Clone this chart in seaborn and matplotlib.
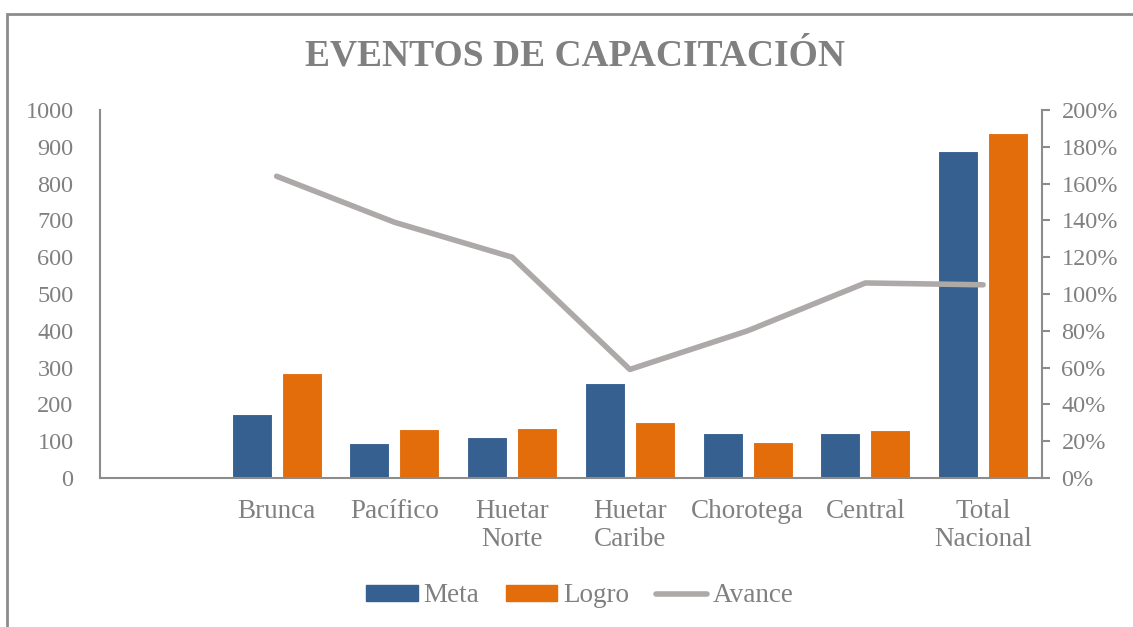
import matplotlib
matplotlib.use("Agg")
import matplotlib.pyplot as plt
import matplotlib.patches as mpatches
from matplotlib.lines import Line2D
from matplotlib.ticker import FuncFormatter
import pandas as pd
import seaborn as sns

# data
regions = ["Brunca", "Pacífico", "Huetar Norte", "Huetar Caribe", "Chorotega", "Central", "Total Nacional"]
tick_labels = ["", "Brunca", "Pacífico", "Huetar\nNorte", "Huetar\nCaribe", "Chorotega", "Central", "Total\nNacional"]
meta = [174, 95, 112, 257, 123, 123, 888]
logro = [286, 132, 135, 151, 98, 130, 937]
avance = [1.64, 1.39, 1.20, 0.59, 0.80, 1.06, 1.05]

C_META = "#36608F"
C_LOGRO = "#E36C0B"
C_AVANCE = "#ADA9A8"
C_TEXT = "#808080"
C_AXIS = "#8C8C8C"

sns.set_theme(style="white")
plt.rcParams["font.family"] = ["Liberation Serif", "DejaVu Serif"]

order = [""] + regions
df = pd.DataFrame({
    "region": regions * 2,
    "valor": meta + logro,
    "serie": ["Meta"] * len(regions) + ["Logro"] * len(regions),
})

fig = plt.figure(figsize=(11.33, 6.27), dpi=100)
ax = fig.add_axes([100 / 1133, 149 / 627, 942 / 1133, 368 / 627])

sns.barplot(data=df, x="region", y="valor", hue="serie", order=order,
            hue_order=["Meta", "Logro"], palette=[C_META, C_LOGRO], saturation=1,
            width=0.85, gap=0.2, edgecolor="white", linewidth=0.8,
            legend=False, ax=ax)

ax.set_ylim(0, 1000)
ax.set_yticks(range(0, 1001, 100))
ax.set_xlim(-0.5, len(order) - 0.5)
ax.set_xticks(range(len(order)))
ax.set_xticklabels(tick_labels, linespacing=1.15)
ax.set_xlabel("")
ax.set_ylabel("")
ax.tick_params(axis="both", colors=C_TEXT, length=0)
ax.tick_params(axis="y", labelsize=17.5, pad=19)
ax.tick_params(axis="x", labelsize=19.5, pad=15)
for s in ["top", "right"]:
    ax.spines[s].set_visible(False)
ax.spines["left"].set_color(C_AXIS)
ax.spines["bottom"].set_color(C_AXIS)
ax.spines["left"].set_linewidth(1.5)
ax.spines["bottom"].set_linewidth(1.5)

ax2 = ax.twinx()
line_df = pd.DataFrame({"pos": [order.index(r) for r in regions], "avance": avance})
sns.lineplot(data=line_df, x="pos", y="avance", color=C_AVANCE, linewidth=4,
             solid_capstyle="round", ax=ax2)
ax2.set_ylim(0, 2)
ax2.set_yticks([i / 10 for i in range(0, 21, 2)])
ax2.yaxis.set_major_formatter(FuncFormatter(lambda v, p: f"{v * 100:.0f}%"))
ax2.set_ylabel("")
ax2.set_xlabel("")
ax2.tick_params(axis="y", labelcolor=C_TEXT, color=C_AXIS, labelsize=17.5,
                length=6, width=1.5, direction="out", pad=8)
for s in ["top", "left", "bottom"]:
    ax2.spines[s].set_visible(False)
ax2.spines["right"].set_color(C_AXIS)
ax2.spines["right"].set_linewidth(1.5)

fig.text(575 / 1133, 1 - 56 / 627, "EVENTOS DE CAPACITACIÓN", ha="center", va="center",
         fontsize=27, fontweight="bold", color=C_TEXT)

handles = [
    mpatches.Patch(color=C_META, label="Meta"),
    mpatches.Patch(color=C_LOGRO, label="Logro"),
    Line2D([0], [0], color=C_AVANCE, linewidth=4, solid_capstyle="round", label="Avance"),
]
leg = fig.legend(handles=handles, loc="center", bbox_to_anchor=(580 / 1133, 1 - 596 / 627),
                 ncol=3, frameon=False, fontsize=19.5, handlelength=1.9, handleheight=0.52,
                 handletextpad=0.2, columnspacing=1.0, borderpad=0)
for t in leg.get_texts():
    t.set_color(C_TEXT)

fig.add_artist(mpatches.Rectangle((6.5 / 1133, -0.1), 1.2, 1.1 - 13.5 / 627,
                                  transform=fig.transFigure, fill=False,
                                  edgecolor="#8C8C8C", linewidth=2))

fig.savefig("out.png", dpi=100)
